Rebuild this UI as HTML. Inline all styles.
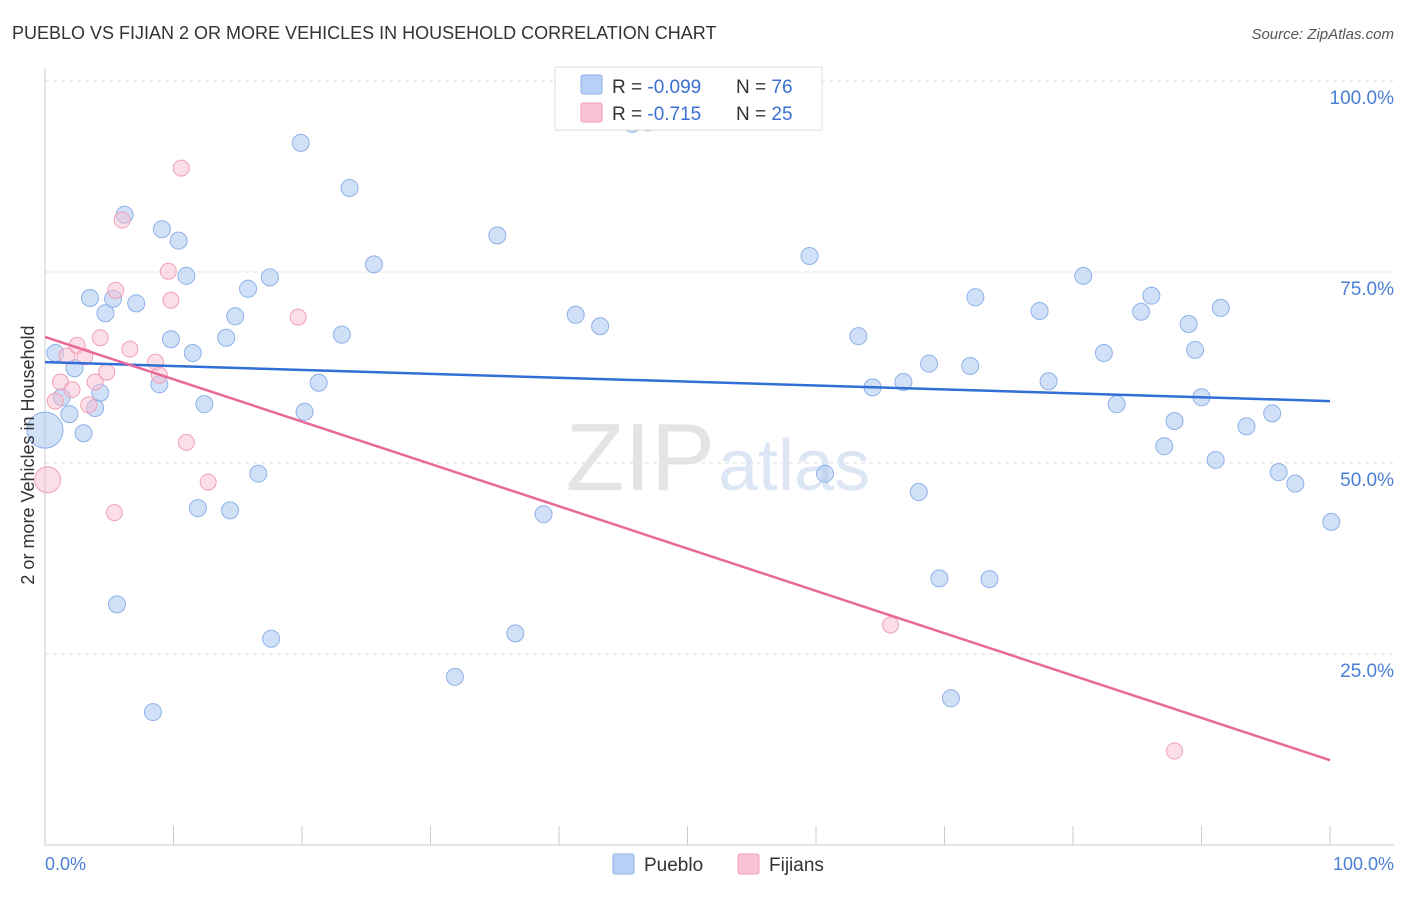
<!DOCTYPE html>
<html><head><meta charset="utf-8"><style>
body{margin:0;background:#fff;font-family:"Liberation Sans",sans-serif;}
svg text{font-family:"Liberation Sans",sans-serif;}
</style></head><body>
<svg width="1406" height="892" xmlns="http://www.w3.org/2000/svg">
<text x="12" y="39" font-size="18" fill="#333">PUEBLO VS FIJIAN 2 OR MORE VEHICLES IN HOUSEHOLD CORRELATION CHART</text>
<text x="1394" y="39" font-size="15" fill="#555" text-anchor="end" font-style="italic">Source: ZipAtlas.com</text>
<g id="grid"></g>
<text x="715" y="490" font-size="96" fill="#e4e4e4" text-anchor="end" font-family="Liberation Serif">ZIP</text>
<text x="718" y="490" font-size="72" fill="#dde6f4">atlas</text>
<g id="marks"></g>
<text x="34" y="455" font-size="18" fill="#333" text-anchor="middle" transform="rotate(-90 34 455)">2 or more Vehicles in Household</text>
<text x="45" y="870" font-size="18" fill="#4a7fd6">0.0%</text>
<text x="1394" y="870" font-size="18" fill="#4a7fd6" text-anchor="end">100.0%</text>
<g>
<rect x="555" y="67" width="267" height="63" fill="#fff" stroke="#ddd"/>
<rect x="581" y="75" width="21" height="19" fill="#b8d0f5" stroke="#8fb1e8" rx="2"/>
<rect x="581" y="103" width="21" height="19" fill="#fbc4d4" stroke="#f0a0b8" rx="2"/>
<text x="612" y="93" font-size="19" fill="#333">R = <tspan fill="#3a6fd0">-0.099</tspan></text>
<text x="736" y="93" font-size="19" fill="#333">N = <tspan fill="#3a6fd0">76</tspan></text>
<text x="612" y="120" font-size="19" fill="#333">R = <tspan fill="#3a6fd0"> -0.715</tspan></text>
<text x="736" y="120" font-size="19" fill="#333">N = <tspan fill="#3a6fd0">25</tspan></text>
</g>
<g>
<rect x="613" y="854" width="21" height="20" fill="#b8d0f5" stroke="#8fb1e8" rx="2"/>
<text x="644" y="871" font-size="19" fill="#333">Pueblo</text>
<rect x="738" y="854" width="21" height="20" fill="#fbc4d4" stroke="#f0a0b8" rx="2"/>
<text x="769" y="871" font-size="19" fill="#333">Fijians</text>
</g>
</svg>
<script>
const puebloX=[0.8,1.3,1.9,2.3,3.0,3.5,3.9,4.3,4.7,5.3,5.6,6.2,7.1,8.4,8.9,9.1,9.8,10.4,11.0,11.5,11.9,12.4,14.1,14.4,14.8,15.8,16.6,17.5,17.6,19.9,20.2,21.3,23.1,23.7,25.6,31.9,35.2,36.6,38.8,41.3,43.2,45.7,46.9,59.5,60.7,63.3,64.4,66.8,68.0,68.8,69.6,70.5,72.0,72.4,73.5,77.4,78.1,80.8,82.4,83.4,85.3,86.1,87.1,87.9,89.0,89.5,90.0,91.1,91.5,93.5,95.5,96.0,97.3,100.1,0];
const puebloY=[64.4,58.6,56.4,62.4,53.9,71.6,57.2,59.2,69.6,71.5,31.5,82.5,70.9,17.4,60.3,80.6,66.2,79.1,74.5,64.4,44.1,57.7,66.4,43.8,69.2,72.8,48.6,74.3,27.0,91.9,56.7,60.5,66.8,86.0,76.0,22.0,79.8,27.7,43.3,69.4,67.9,94.4,94.6,77.1,48.6,66.6,59.9,60.6,46.2,63.0,34.9,19.2,62.7,71.7,34.8,69.9,60.7,74.5,64.4,57.7,69.8,71.9,52.2,55.5,68.2,64.8,58.6,50.4,70.3,54.8,56.5,48.8,47.3,42.3,54.3];
const fijiX=[0.2,0.8,1.2,1.7,2.1,2.5,3.1,3.4,3.9,4.3,4.8,5.4,5.5,6.0,6.6,8.6,8.9,9.6,9.8,10.6,11.0,12.7,19.7,65.8,87.9];
const fijiY=[47.8,58.1,60.6,64.0,59.6,65.4,63.9,57.6,60.6,66.4,61.9,43.5,72.6,81.8,64.9,63.2,61.5,75.1,71.3,88.6,52.7,47.5,69.1,28.8,12.3];
const puebloTrend=[63.2,58.1];
const fijiTrend=[66.5,11.1];
const yTicks=[100,75,50,25];
const yTickLabels=["100.0%","75.0%","50.0%","25.0%"];
const xTicks=[0,10,20,30,40,50,60,70,80,90,100];
const NS="http://www.w3.org/2000/svg";
const sx=v=>45+v*12.85, sy=v=>845-v*7.64;
function mk(t,a,p){const e=document.createElementNS(NS,t);for(const k in a)e.setAttribute(k,a[k]);p.appendChild(e);return e;}
const g=document.getElementById('grid'), m=document.getElementById('marks');
yTicks.forEach((t,i)=>{
 const l=mk('line',{x1:45,x2:1394,y1:sy(t),y2:sy(t),stroke:'#ddd','stroke-dasharray':'4 4'},g);
 
 
 const tx=mk('text',{x:1394,y:sy(t)+23,'font-size':19,fill:'#4a7fd6','text-anchor':'end'},g);
 tx.textContent=yTickLabels[i];
 
 
});
const ax=mk('line',{x1:45,x2:1394,y1:845,y2:845,stroke:'#ccc'},g);


const ay=mk('line',{x1:45,x2:45,y1:68,y2:845,stroke:'#ccc'},g);


xTicks.forEach(t=>{
 const l=mk('line',{x1:sx(t),x2:sx(t),y1:826,y2:845,stroke:'#ccc'},g);
 
 
});
puebloX.forEach((x,i)=>{
 const big=i===puebloX.length-1;
 const c=mk('circle',{cx:sx(x),cy:sy(puebloY[i]),r:big?18:8.5,fill:'rgba(170,198,240,0.55)',stroke:'#8fb1e8','stroke-width':1},m);
 
 
});
fijiX.forEach((x,i)=>{
 const c=mk('circle',{cx:sx(x),cy:sy(fijiY[i]),r:i===0?13:8,fill:'rgba(250,190,210,0.5)',stroke:'#f0a0b8','stroke-width':1},m);
 
 
});
const t1=mk('line',{x1:sx(0),y1:sy(puebloTrend[0]),x2:sx(100),y2:sy(puebloTrend[1]),stroke:'#2f6fd6','stroke-width':2.5},m);


const t2=mk('line',{x1:sx(0),y1:sy(fijiTrend[0]),x2:sx(100),y2:sy(fijiTrend[1]),stroke:'#e8689a','stroke-width':2.5},m);


</script>
</body></html>
